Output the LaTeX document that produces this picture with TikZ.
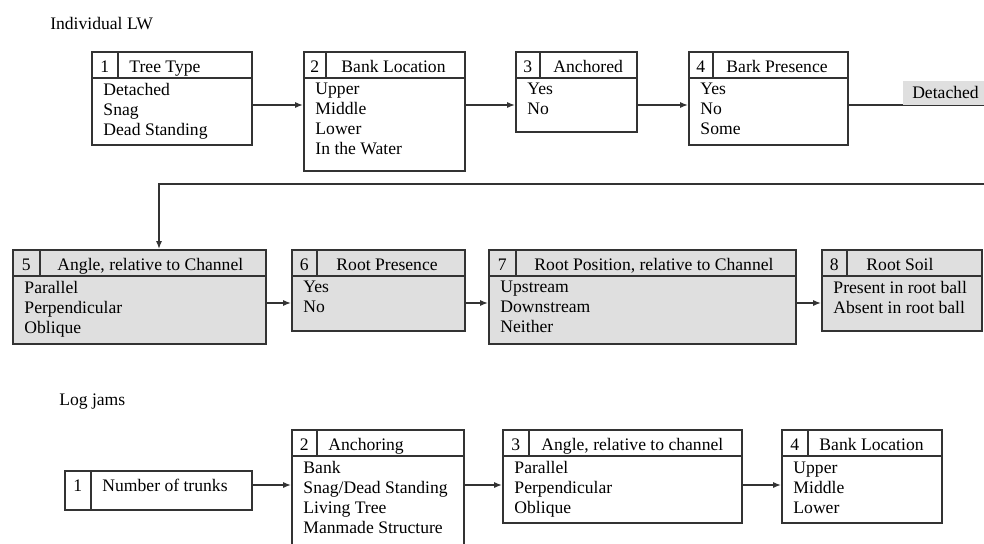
\documentclass[tikz,border=0pt]{standalone}
\usepackage{fontspec}
\setmainfont{Liberation Serif}
\usetikzlibrary{arrows.meta, fit, calc}

% class box: name, style, corner, corner, cell width, number, title offset, title, classes
\newcommand{\lwbox}[9]{%
    \node[#2, fit={#3 #4}] (#1) {};
    \draw[rule] ($(#1.north west)+(0,27)$) -- ($(#1.north east)+(0,27)$);
    \draw[rule] ($(#1.north west)+(#5,0)$) -- ++(0,27);
    \node[anchor=base] (#1-num) at ($(#1.north west)+(#5/2,21)$) {#6};
    \node[anchor=base west] (#1-head) at ($(#1.north west)+(#5+#7,21)$) {#8};
    \node[items] (#1-list) at ($(#1.north west)+(12,32)$) {#9};
}

\begin{document}
\begin{tikzpicture}[
    x=0.75pt, y=-0.75pt,
    every node/.style={font=\fontsize{13.2}{15}\selectfont, inner sep=0pt},
    rule/.style={draw=black!80, line width=1.2pt},
    plainbox/.style={rule, fill=white},
    shadebox/.style={rule, fill=gray!25},
    items/.style={anchor=north west, align=left, execute at begin node=\strut},
    flow/.style={rule, -{Latex[length=6pt, width=4.5pt]}},
    tag/.style={fill=gray!25, inner xsep=6.75pt, minimum height=18pt}
]
    \useasboundingbox (0,0) rectangle (984,543);
    \clip (0,0) rectangle (984,543);

    % Individual LW
    \node[anchor=base west] (lw) at (50,29) {Individual LW};
    \lwbox{t1}{plainbox}{(92,52)}{(252,145)}{27}{1}{11}{Tree Type}{Detached\\Snag\\Dead Standing}
    \lwbox{t2}{plainbox}{(304,52)}{(465,171)}{23}{2}{15}{Bank Location}{Upper\\Middle\\Lower\\In the Water}
    \lwbox{t3}{plainbox}{(516,52)}{(637,132)}{25}{3}{13}{Anchored}{Yes\\No}
    \lwbox{t4}{plainbox}{(689,52)}{(848,145)}{25}{4}{13}{Bark Presence}{Yes\\No\\Some}
    \lwbox{t5}{shadebox}{(13,250)}{(266,344)}{28}{5}{17}{Angle, relative to Channel}{Parallel\\Perpendicular\\Oblique}
    \lwbox{t6}{shadebox}{(292,250)}{(465,331)}{26}{6}{19}{Root Presence}{Yes\\No}
    \lwbox{t7}{shadebox}{(489,250)}{(796,344)}{28}{7}{18}{Root Position, relative to Channel}{Upstream\\Downstream\\Neither}
    \lwbox{t8}{shadebox}{(822,250)}{(982,331)}{26}{8}{19}{Root Soil}{Present in root ball\\Absent in root ball}

    \coordinate (r1) at (0,105);
    \coordinate (r2) at (0,303);
    \draw[flow] (t1.east |- r1) -- (t2.west |- r1);
    \draw[flow] (t2.east |- r1) -- (t3.west |- r1);
    \draw[flow] (t3.east |- r1) -- (t4.west |- r1);
    \draw[flow] (t5.east |- r2) -- (t6.west |- r2);
    \draw[flow] (t6.east |- r2) -- (t7.west |- r2);
    \draw[flow] (t7.east |- r2) -- (t8.west |- r2);

    % wrap to the detached row
    \coordinate (off) at (1010,105);
    \coordinate (bend) at (159,184);
    \draw[flow] (t4.east |- r1) -- (off) |- (bend) -- (bend |- t5.north);
    \node[tag, anchor=south west] (detached) at (903,105) {Detached};

    % Log jams
    \node[anchor=base west] (lj) at (59,405) {Log jams};
    \node[plainbox, fit={(65,471) (252,510)}] (j1) {};
    \draw[rule] ($(j1.north west)+(27,0)$) -- ($(j1.south west)+(27,0)$);
    \node[anchor=base] (j1-num) at ($(j1.north west)+(13.5,21)$) {1};
    \node[anchor=base west] (j1-head) at ($(j1.north west)+(38,21)$) {Number of trunks};
    \lwbox{j2}{plainbox}{(292,430)}{(464,560)}{26}{2}{11}{Anchoring}{Bank\\Snag/Dead Standing\\Living Tree\\Manmade Structure}
    \lwbox{j3}{plainbox}{(503,430)}{(742,523)}{27}{3}{12}{Angle, relative to channel}{Parallel\\Perpendicular\\Oblique}
    \lwbox{j4}{plainbox}{(782,430)}{(942,523)}{27}{4}{11}{Bank Location}{Upper\\Middle\\Lower}

    \coordinate (r3) at (0,485);
    \draw[flow] (j1.east |- r3) -- (j2.west |- r3);
    \draw[flow] (j2.east |- r3) -- (j3.west |- r3);
    \draw[flow] (j3.east |- r3) -- (j4.west |- r3);
\end{tikzpicture}
\end{document}
